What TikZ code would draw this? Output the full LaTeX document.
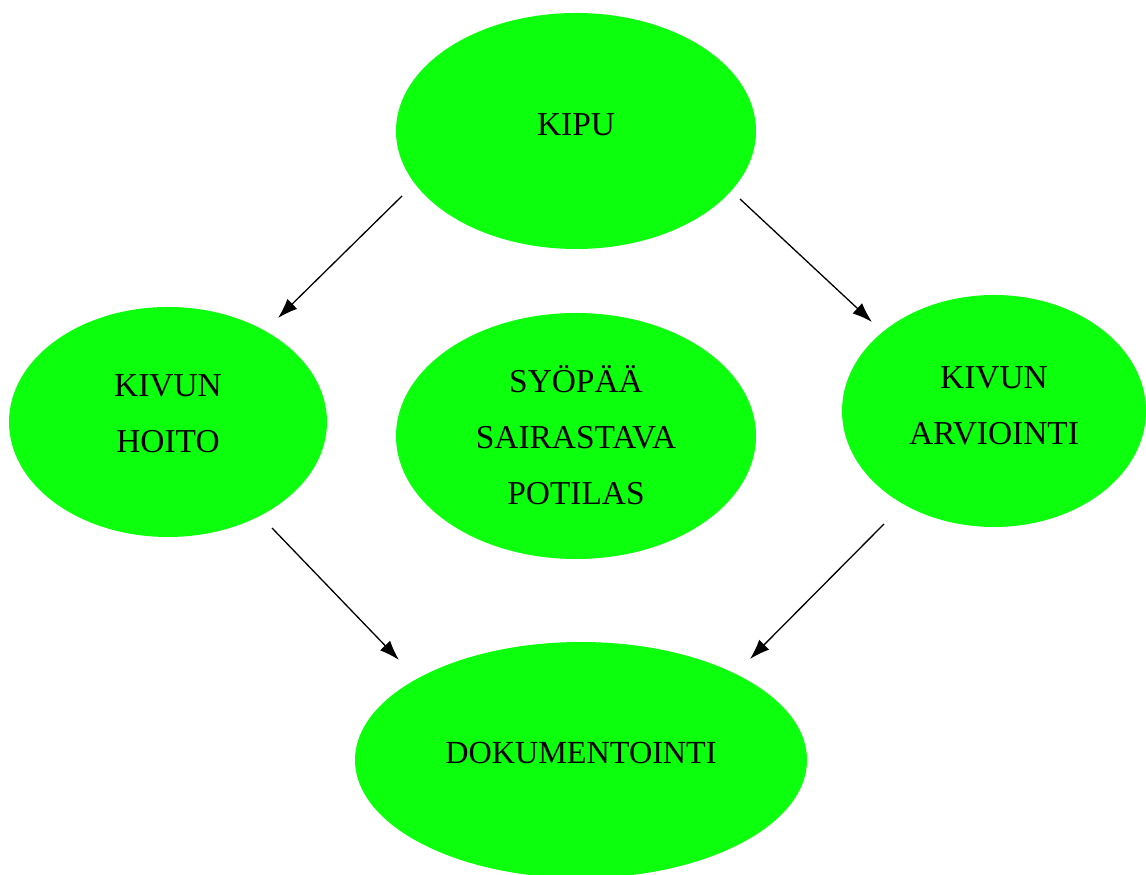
\documentclass[tikz,border=0pt]{standalone}
\usepackage{fontspec}
\setmainfont{Liberation Serif}
\usetikzlibrary{shapes.geometric,arrows.meta}
\definecolor{leaf}{HTML}{0CFF0C}

\begin{document}
\begin{tikzpicture}[x=1pt,y=1pt,blob/.style={ellipse,fill=leaf,draw=none,inner sep=0pt},lbl/.style={align=center,inner sep=0pt,font=\fontsize{33.4}{56}\selectfont},arr/.style={line width=1.3pt,-{Latex[length=20pt,width=14pt]}}]
\useasboundingbox (0,0) rectangle (1146,875);
\node[blob,minimum width=360,minimum height=236] (kipu) at (576,744) {};
\node[blob,minimum width=318,minimum height=230] (hoito) at (168,453) {};
\node[blob,minimum width=360,minimum height=246] (potilas) at (576,439) {};
\node[blob,minimum width=304,minimum height=232] (arvio) at (994,464) {};
\node[blob,minimum width=452,minimum height=236] (doku) at (581,115) {};
% texts
\node[lbl] (kipu-t) at ([yshift=6pt]kipu.center) {KIPU};
\node[lbl] (hoito-t) at ([yshift=8pt]hoito.center) {KIVUN\\HOITO};
\node[lbl] (potilas-t) at ([yshift=1pt]potilas.center) {SYÖPÄÄ\\SAIRASTAVA\\POTILAS};
\node[lbl] (arvio-t) at ([yshift=5pt]arvio.center) {KIVUN\\ARVIOINTI};
\node[lbl,font=\fontsize{32.2}{56}\selectfont] (doku-t) at ([yshift=7pt]doku.center) {DOKUMENTOINTI};
% free arrow ends
\coordinate (k1) at (402,679);\coordinate (h1) at (278,557);
\coordinate (k2) at (740,676);\coordinate (a1) at (872,553);
\coordinate (h2) at (272,347);\coordinate (d1) at (399,215);
\coordinate (a2) at (884,351);\coordinate (d2) at (750,216);
\draw[arr] (k1)--(h1);\draw[arr] (k2)--(a1);
\draw[arr] (h2)--(d1);\draw[arr] (a2)--(d2);
\end{tikzpicture}
\end{document}
